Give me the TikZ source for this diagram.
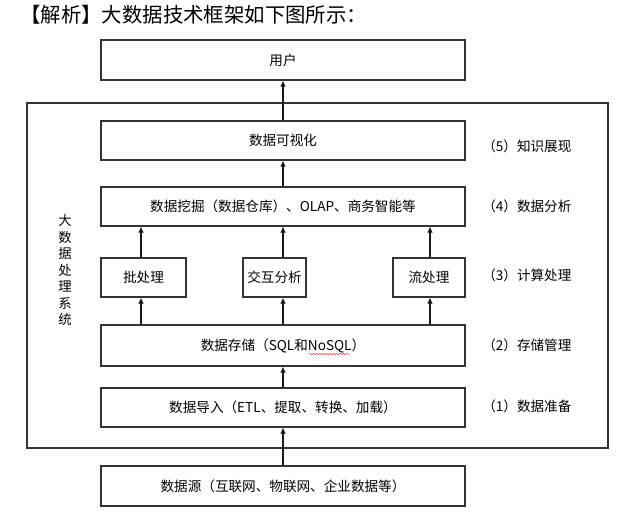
\documentclass[tikz,border=0pt]{standalone}
\usepackage{fontspec}
\setmainfont{Noto Sans CJK SC}
\usepackage{tikz}
\usetikzlibrary{arrows.meta}
\usetikzlibrary{decorations.pathmorphing}
\usetikzlibrary{positioning}

\begin{document}
\begin{tikzpicture}[x=0.75pt,y=-0.75pt]
    \useasboundingbox (0,0) rectangle (639,520);

    \tikzset{box/.style={draw=black!80,line width=0.8pt,minimum height=29.25pt,inner sep=0pt,font=\fontsize{10.2}{12}\selectfont}}
    \tikzset{wide/.style={box,minimum width=273pt}}
    \tikzset{stage/.style={anchor=west,inner sep=0pt,font=\fontsize{10.2}{12}\selectfont}}
    \tikzset{up/.style={-{Latex[length=1.6mm,width=1.5mm]},line width=0.8pt,black!90}}

    % title
    \node[anchor=west,inner sep=0pt] (title) at (20,15) {\fontsize{15.3}{17}\selectfont【解析】大数据技术框架如下图所示：};

    % processing system frame
    \draw[black!80,line width=0.8pt] (27,103) rectangle (608,448);
    \node[align=center,inner sep=0pt,font=\fontsize{10}{12.4}\selectfont] (sysname) at (65,270) {大\\数\\据\\处\\理\\系\\统};

    % layers
    \node[wide,minimum height=30pt] (user) at (283,60) {用户};
    \node[wide] (vis) at (283,140.5) {数据可视化};
    \node[wide] (mine) at (283,206.5) {数据挖掘（数据仓库）、OLAP、商务智能等};
    \node[box,minimum width=63.75pt] (batch) at (143.5,277.5) {批处理};
    \node[box,minimum width=47.25pt] (inter) at (274.5,277.5) {交互分析};
    \node[box,minimum width=54pt] (stream) at (429,277.5) {流处理};
    \node[wide,minimum height=30.75pt] (store) at (283,345.5) {数据存储（SQL和NoSQL）};
    \node[wide] (load) at (283,407.5) {数据导入（ETL、提取、转换、加载）};
    \node[wide,minimum height=30pt] (src) at (283,486) {数据源（互联网、物联网、企业数据等）};

    % spell check mark
    \draw[red!80,line width=0.4pt,decorate,decoration={snake,amplitude=0.5pt,segment length=2.5pt}] (309,354) -- (349,354);

    % stages
    \node[stage] (s5) at (482,146) {（5）知识展现};
    \node[stage] (s4) at (482,206.5) {（4）数据分析};
    \node[stage] (s3) at (482,275.5) {（3）计算处理};
    \node[stage] (s2) at (482,345.5) {（2）存储管理};
    \node[stage] (s1) at (482,406.5) {（1）数据准备};

    % arrows
    \coordinate (a1) at (141,0);
    \coordinate (a2) at (283,0);
    \coordinate (a3) at (430,0);
    \draw[up] (src) -- (load);
    \draw[up] (load) -- (store);
    \draw[up] (store.north -| a1) -- (batch.south -| a1);
    \draw[up] (store.north -| a2) -- (inter.south -| a2);
    \draw[up] (store.north -| a3) -- (stream.south -| a3);
    \draw[up] (batch.north -| a1) -- (mine.south -| a1);
    \draw[up] (inter.north -| a2) -- (mine.south -| a2);
    \draw[up] (stream.north -| a3) -- (mine.south -| a3);
    \draw[up] (mine) -- (vis);
    \draw[up] (vis) -- (user);

\end{tikzpicture}
\end{document}
